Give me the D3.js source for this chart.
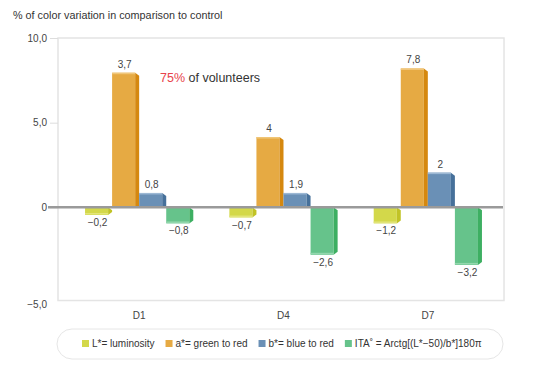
<!DOCTYPE html>
<html>
<head>
<meta charset="utf-8">
<script src="https://cdn.jsdelivr.net/npm/d3@7"></script>
<style>
	body { margin: 0; background: #ffffff; }
	svg { display: block; font-family: "Liberation Sans", Arial, sans-serif; }
	.bar3d-tick text { fill: #444; font-size: 10px; }
	.bar3d-value { fill: #444; font-size: 10px; }
	.bar3d-legend text { fill: #333; font-size: 10px; }
</style>
</head>
<body>
<svg id="chart" width="550" height="368"></svg>
<script>

// categories (days)
var aCategories = ['D1', 'D4', 'D7'];

// series, bar heights as drawn on the axis
var aLuminosity = [-0.45, -0.6, -0.95];
var aGreenRed = [7.95, 4.15, 8.2];
var aBlueRed = [0.85, 0.85, 2.05];
var aIta = [-0.95, -2.8, -3.4];

// printed value labels
var aLuminosityLabels = ['\u22120,2', '\u22120,7', '\u22121,2'];
var aGreenRedLabels = ['3,7', '4', '7,8'];
var aBlueRedLabels = ['0,8', '1,9', '2'];
var aItaLabels = ['\u22120,8', '\u22122,6', '\u22123,2'];

var aSeriesNames = ['L*= luminosity', 'a*= green to red', 'b*= blue to red', 'ITA\u02da  = Arctg[(L*\u221250)/b*]180\u03c0'];

// y ticks
var aTickValues = [10, 5, 0, -5.5];
var aTickLabels = ['10,0', '5,0', '0', '\u22125,0'];


function Bar3D_Chart(vSelector)
{
	var sSvg = d3.select(vSelector);
	if (sSvg.empty() == true)
	{
		console.log('Bar3D_Chart: Could not identify element based on selector: '+vSelector);
		return;
	}

	var aSeries = [
		{'values': aLuminosity, 'labels': aLuminosityLabels, 'front': '#d3d84a', 'side': '#c1c326', 'top': '#e2e57a'},
		{'values': aGreenRed, 'labels': aGreenRedLabels, 'front': '#e6aa43', 'side': '#d5880f', 'top': '#f0c67a'},
		{'values': aBlueRed, 'labels': aBlueRedLabels, 'front': '#6a90b6', 'side': '#46709a', 'top': '#9cb8d4'},
		{'values': aIta, 'labels': aItaLabels, 'front': '#66c38b', 'side': '#3daf62', 'top': '#93d7ad'}
	];

	var nBorderTop = 38;
	var nBorderLeft = 58;
	var nBorderRight = 504;
	var nBorderBottom = 300.5;
	var nDepth = 4;

	var scaleY = d3.scaleLinear()
		.domain([-5.5, 10])
		.range([nBorderBottom, nBorderTop]);

	var scaleX = d3.scaleBand()
		.domain(aCategories)
		.range([67, 500])
		.paddingInner(0.25)
		.paddingOuter(0.125);

	var scaleSeries = d3.scaleBand()
		.domain(d3.range(aSeries.length))
		.range([0, scaleX.bandwidth()]);

	// title
	sSvg.append('text')
		.attr('x', 13)
		.attr('y', 19)
		.attr('fill', '#333')
		.style('font-size', '10.8px')
		.text('% of color variation in comparison to control');

	// frame
	sSvg.append('rect')
		.attr('x', nBorderLeft)
		.attr('y', nBorderTop)
		.attr('width', nBorderRight - nBorderLeft)
		.attr('height', nBorderBottom - nBorderTop)
		.attr('fill', 'none')
		.attr('stroke', '#e4e4e4')
		.attr('stroke-width', 1.5);

	var axisY = d3.axisLeft()
		.scale(scaleY)
		.tickValues(aTickValues)
		.tickSize(8)
		.tickPadding(3)
		.tickFormat(function(fValue, nIndex)
		{
			return aTickLabels[nIndex];
		});

	var sAxisY = sSvg.append('g')
		.attr('class', 'bar3d-tick')
		.attr('transform', 'translate(' + nBorderLeft + ',0)')
		.call(axisY);
	sAxisY.select('.domain').remove();
	sAxisY.selectAll('line').attr('stroke', '#dddddd');
	sAxisY.selectAll('text').attr('dy', function(fValue)
	{
		return fValue < -5 ? '0.7em' : '0.32em';
	});
	sAxisY.selectAll('.tick').filter(function(fValue) { return fValue < -5; }).select('line').remove();

	var axisX = d3.axisBottom()
		.scale(scaleX)
		.tickSize(0)
		.tickPadding(11);

	var sAxisX = sSvg.append('g')
		.attr('class', 'bar3d-tick')
		.attr('transform', 'translate(0,' + nBorderBottom + ')')
		.call(axisX);
	sAxisX.select('.domain').remove();

	var nZero = scaleY(0);

	for (var nCat = 0; nCat < aCategories.length; nCat++)
	{
		for (var nSer = 0; nSer < aSeries.length; nSer++)
		{
			var oSer = aSeries[nSer];
			var fValue = oSer.values[nCat];
			var nX = scaleX(aCategories[nCat]) + scaleSeries(nSer);
			var nW = scaleSeries.bandwidth() - nDepth;
			var nY1 = Math.min(scaleY(fValue), nZero);
			var nY2 = Math.max(scaleY(fValue), nZero);

			// front
			sSvg.append('rect')
				.attr('x', nX)
				.attr('y', nY1)
				.attr('width', nW)
				.attr('height', nY2 - nY1)
				.attr('fill', oSer.front);

			// side with chamfered corner
			sSvg.append('path')
				.attr('d', 'M' + (nX + nW) + ',' + nY1
					+ 'L' + (nX + nW + nDepth) + ',' + (nY1 + 3)
					+ 'L' + (nX + nW + nDepth) + ',' + (fValue < 0 ? nY2 - 3 : nY2)
					+ 'L' + (nX + nW) + ',' + nY2 + 'Z')
				.attr('fill', oSer.side);

			// light edge
			sSvg.append('rect')
				.attr('x', nX)
				.attr('y', fValue < 0 ? nY2 - 2 : nY1)
				.attr('width', nW)
				.attr('height', 1.5)
				.attr('fill', oSer.top);

			sSvg.append('text')
				.attr('class', 'bar3d-value')
				.attr('x', nX + nW / 2 + 1)
				.attr('y', fValue < 0 ? nY2 + 11 : nY1 - 5)
				.attr('text-anchor', 'middle')
				.text(oSer.labels[nCat]);
		}
	}

	// zero line
	sSvg.append('line')
		.attr('x1', 48)
		.attr('x2', nBorderRight - 1)
		.attr('y1', nZero)
		.attr('y2', nZero)
		.attr('stroke', '#9a9a9a')
		.attr('stroke-width', 2.5);

	// annotation
	var sNote = sSvg.append('text')
		.attr('x', 160)
		.attr('y', 82)
		.style('font-size', '12.5px')
		.attr('fill', '#333');
	sNote.append('tspan').attr('fill', '#e8434b').text('75%');
	sNote.append('tspan').text(' of volunteers');

	// legend
	var sLegend = sSvg.append('g').attr('class', 'bar3d-legend');
	sLegend.append('rect')
		.attr('x', 57)
		.attr('y', 329)
		.attr('width', 446)
		.attr('height', 30)
		.attr('rx', 15)
		.attr('fill', '#fff')
		.attr('stroke', '#e6e6e6');

	var nLegendX = 82;
	for (var nItem = 0; nItem < aSeries.length; nItem++)
	{
		sLegend.append('rect')
			.attr('x', nLegendX)
			.attr('y', 340)
			.attr('width', 7)
			.attr('height', 7)
			.attr('fill', aSeries[nItem].front);
		var sText = sLegend.append('text')
			.attr('x', nLegendX + 10)
			.attr('y', 347)
			.text(aSeriesNames[nItem]);
		nLegendX = nLegendX + 10 + sText.node().getComputedTextLength() + 11;
	}
}

Bar3D_Chart('#chart');

</script>
</body>
</html>
